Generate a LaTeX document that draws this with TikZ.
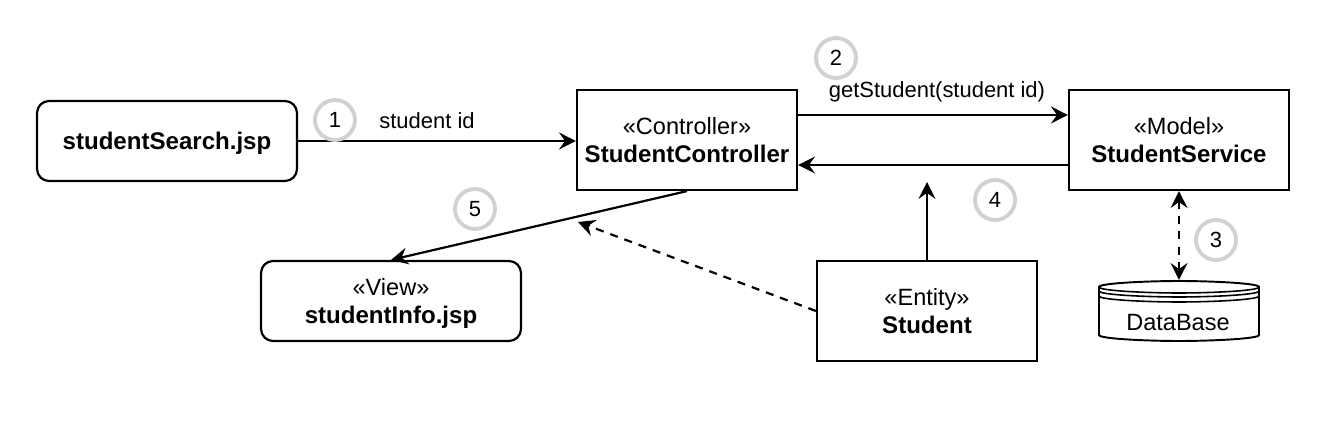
\documentclass[tikz,border=0pt]{standalone}
\usepackage{fontspec}
\usetikzlibrary{arrows.meta}
\setmainfont{Liberation Sans}
\begin{document}
\begin{tikzpicture}[x=0.02cm, y=-0.02cm, >={Stealth[length=9.6pt,width=9.6pt,inset=3.4pt]}, line width=1.25pt,
    class/.style={draw, minimum width=4.4cm, align=center, inner sep=0pt, text depth=0pt, font=\fontsize{13.4}{15.6}\selectfont},
    page/.style={class, rounded corners=0.24cm, minimum width=5.2cm, minimum height=1.6cm},
    step number/.style={circle, draw=black!18, line width=2.2pt, minimum size=0.8cm, inner sep=0pt, font=\fontsize{12.5}{15}\selectfont},
    msg/.style={inner sep=0pt, font=\fontsize{12.5}{15}\selectfont},
    link dash/.style={dash pattern=on 4.6pt off 4pt}]
  \useasboundingbox (0,0) rectangle (1342,422);

  \node[page] (search) at (167,141) {\fontsize{13.7}{15}\selectfont\bfseries studentSearch.jsp};
  \node[page] (view) at (391,301) {«View»\\\fontsize{13.7}{15.6}\selectfont\bfseries studentInfo.jsp};
  \node[class, minimum height=2cm] (controller) at (687,140) {«Controller»\\\fontsize{13.7}{15.6}\selectfont\bfseries StudentController};
  \node[class, minimum height=2cm] (service) at (1179,140) {«Model»\\\fontsize{13.7}{15.6}\selectfont\bfseries StudentService};
  \node[class, minimum height=2cm] (entity) at (927,311) {«Entity»\\\fontsize{13.7}{15.6}\selectfont\bfseries Student};

  % data store
  \node[msg, minimum width=3.2cm, minimum height=1.2cm] (db) at (1179,311) {};
  \draw[fill=white, line width=1.1pt] (1099,287) .. controls (1099,283) and (1150,281) .. (1179,281)
    .. controls (1208,281) and (1259,283) .. (1259,287) -- (1259,335)
    .. controls (1259,339) and (1208,341) .. (1179,341)
    .. controls (1150,341) and (1099,339) .. (1099,335) -- cycle;
  \draw[line width=0.9pt] (1099,287) .. controls (1099,291) and (1150,293) .. (1179,293) .. controls (1208,293) and (1259,291) .. (1259,287);
  \draw[line width=0.9pt] (1099,291) .. controls (1099,295) and (1150,297) .. (1179,297) .. controls (1208,297) and (1259,295) .. (1259,291);
  \draw[line width=0.9pt] (1099,296) .. controls (1099,300) and (1150,302) .. (1179,302) .. controls (1208,302) and (1259,300) .. (1259,296);
  \node[msg, font=\fontsize{13.4}{15}\selectfont] (dblabel) at (1178,323) {DataBase};

  \coordinate (c5) at (578,222);
  \coordinate (c4) at (927,182);

  \draw[->] (search.east) -- (search.east -| controller.west);
  \draw[->] (controller.east |- 0,115) -- (service.west |- 0,115);
  \draw[->] (service.west |- 0,165) -- (controller.east |- 0,165);
  \draw[->] (controller.south) -- (view.north);
  \draw[->, link dash] (entity.west) -- (c5);
  \draw[->] (entity.north) -- (c4);
  \draw[<->, link dash] (service.south) -- (db.north);

  \node[msg] (id) at (427,121) {student id};
  \node[msg] (get) at (937,92) {getStudent(student id)};

  \node[step number] (1) at (335,120) {1};
  \node[step number] (2) at (836,58) {2};
  \node[step number] (3) at (1216,240) {3};
  \node[step number] (4) at (995,200) {4};
  \node[step number] (5) at (475,209) {5};
\end{tikzpicture}
\end{document}
